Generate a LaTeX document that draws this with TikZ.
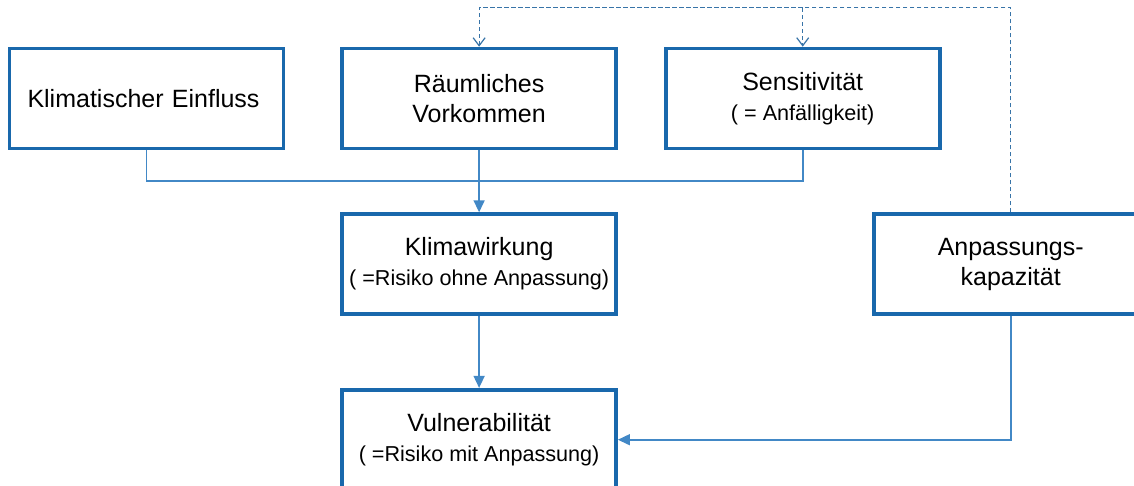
\documentclass[tikz,border=0pt]{standalone}
\usepackage{fontspec}
\setmainfont{Liberation Sans}
\usetikzlibrary{
  arrows.meta,
  positioning,  % right=of ...
  calc,         % $...$
}
\definecolor{boxblue}{RGB}{25,104,172}
\definecolor{linkblue}{RGB}{66,136,198}
\newcommand{\ttl}{\fontsize{12.5pt}{15pt}\selectfont}
\newcommand{\subttl}{\fontsize{10.8pt}{15pt}\selectfont}
\def\myhdist{27.5pt}
\def\myvdist{31pt}
\tikzset{
  my box/.style={
    draw=boxblue,
    line width=1.8pt,
    minimum width=137pt,
    minimum height=50pt,
    inner sep=2pt,
    align=center,
    font=\ttl,
    rectangle
  },
  my link/.style={
    draw=linkblue,
    line width=0.8pt,
  },
  my arrow/.style={
    my link,
    -{Triangle[length=6pt,width=5.5pt]}
  },
  my dashed/.style={
    draw=linkblue!85!black,
    line width=0.6pt,
    dash pattern=on 2.2pt off 1.3pt,
    -{Straight Barb[length=4pt,width=6pt]}
  },
  node distance=\myvdist and \myhdist
}

\begin{document}
\begin{tikzpicture}
\useasboundingbox (0,0) rectangle (567pt,-243pt);
\clip (0,0) rectangle (567pt,-243pt);
\node[my box,align=left,text width=119pt] (klima) at (73.25pt,-49.25pt) {Klimatischer Einfluss};
\node[my box] (raum) [right=of klima]              {Räumliches\\Vorkommen};
\node[my box] (sens) [right=23pt of raum]          {Sensitivität\\{\subttl( = Anfälligkeit)}};
\node[my box] (wirk) [below=of raum]               {Klimawirkung\\{\subttl( =Risiko ohne Anpassung)}};
\node[my box] (vul)  [below=36pt of wirk]          {Vulnerabilität\\{\subttl( =Risiko mit Anpassung)}};
\node[my box] (anp)  [right=127pt of wirk]         {Anpassungs-\\kapazität};
\coordinate (mid) at ($(raum.south)!0.5!(wirk.north)$);
\coordinate (top) at ($(sens.north)+(0,19.5pt)$);
\draw[my link]   (klima.south) |- (mid) -| (sens.south);
\draw[my arrow]  (raum.south) -- (wirk.north);
\draw[my arrow]  (wirk.south) -- (vul.north);
\draw[my arrow]  (anp.south) |- (vul.east);
\draw[my dashed] (anp.north) |- (top) -- (sens.north);
\draw[my dashed] (top) -| (raum.north);
\end{tikzpicture}
\end{document}
